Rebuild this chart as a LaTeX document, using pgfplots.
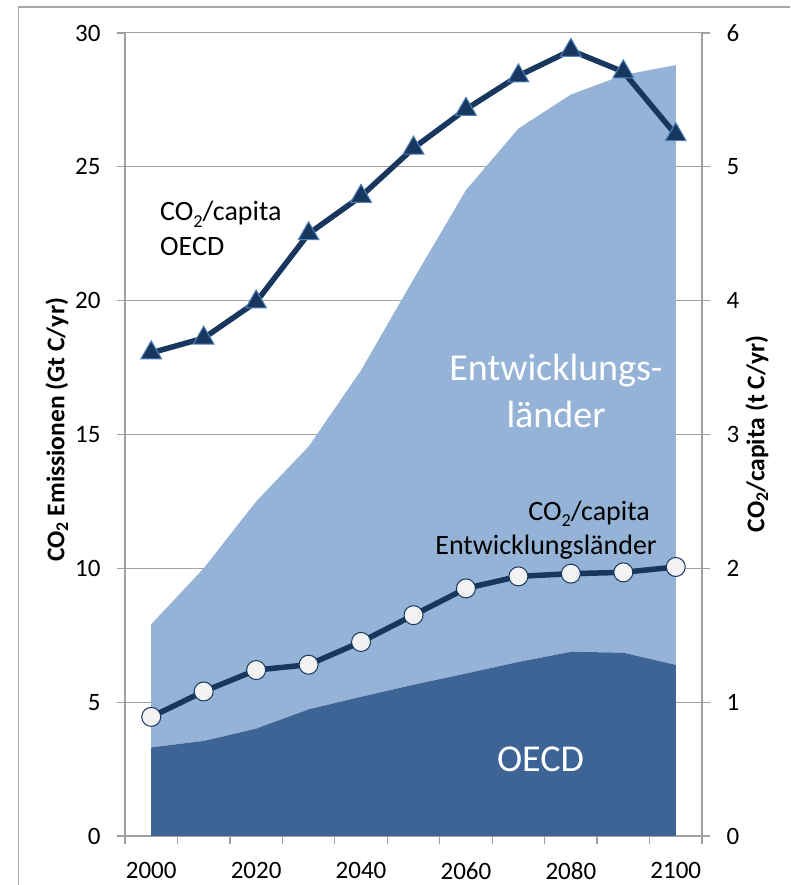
\documentclass[border=0pt]{standalone}
\usepackage{pgfplots}
\pgfplotsset{compat=1.18}
\usepackage{fontspec}
\setmainfont{Carlito}
\definecolor{darkarea}{RGB}{61,100,148}
\definecolor{lightarea}{RGB}{149,179,215}
\definecolor{navy}{RGB}{23,55,94}
\definecolor{cfill}{RGB}{242,242,242}
\definecolor{tborder}{RGB}{79,129,189}
\definecolor{axgray}{RGB}{160,160,160}
\definecolor{framegray}{RGB}{170,170,170}
\newcommand{\subtwo}{\raisebox{-0.22em}{\fontsize{0.65em}{1em}\selectfont 2}}
\begin{document}
\begin{tikzpicture}
\useasboundingbox (0,0) rectangle (790pt,885pt);
\draw[framegray, line width=1.3pt] (18.5pt,0pt) -- (18.5pt,878pt) -- (790pt,878pt);
\begin{axis}[
  at={(125pt,49pt)}, anchor=south west,
  scale only axis, width=577pt, height=803pt,
  xmin=1995, xmax=2105, ymin=0, ymax=30,
  clip=false,
  axis x line*=bottom, axis y line*=left,
  axis line style={-, draw=axgray, line width=1.3pt},
  xtick={2000,2020,...,2100},
  xticklabels={2000,2020,2040,2060,2080,2100},
  minor xtick={1995,2005,...,2105},
  ytick={0,5,...,30},
  tick align=outside,
  major tick length=8pt, minor tick length=8pt,
  major x tick style={draw=none},
  minor x tick style={draw=axgray, line width=1.3pt},
  major y tick style={draw=axgray, line width=1.3pt},
  ymajorgrids=true,
  major grid style={draw=axgray, line width=1pt},
  tick label style={font=\fontsize{25}{28}\selectfont, /pgf/number format/assume math mode=true},
  xticklabel style={yshift=-15pt},
  yticklabel style={xshift=-13pt},
  stack plots=y,
  ylabel={\bfseries CO\textsubscript{2} Emissionen (Gt C/yr)},
  ylabel style={font=\fontsize{25.5}{30}\selectfont, at={(axis description cs:-0.1179,0.5056)}, anchor=center},
]
\addplot[fill=darkarea, draw=none] coordinates {
 (2000,3.31) (2010,3.55) (2020,4.01) (2030,4.73) (2040,5.20) (2050,5.65)
 (2060,6.07) (2070,6.50) (2080,6.88) (2090,6.85) (2100,6.39)} \closedcycle;
\addplot[fill=lightarea, draw=none] coordinates {
 (2000,4.60) (2010,6.45) (2020,8.49) (2030,9.82) (2040,12.20) (2050,15.15)
 (2060,18.06) (2070,19.93) (2080,20.82) (2090,21.58) (2100,22.41)} \closedcycle;
\end{axis}
\begin{axis}[
  at={(125pt,49pt)}, anchor=south west,
  scale only axis, width=577pt, height=803pt,
  xmin=1995, xmax=2105, ymin=0, ymax=6,
  clip=false,
  axis x line=none, axis y line*=right,
  axis line style={-, draw=axgray, line width=1.3pt},
  ytick={0,1,...,6},
  tick align=outside,
  major tick length=8pt,
  major y tick style={draw=axgray, line width=1.3pt},
  tick label style={font=\fontsize{25}{28}\selectfont, /pgf/number format/assume math mode=true},
  yticklabel style={xshift=13pt},
  ylabel={\bfseries CO\textsubscript{2}/capita (t C/yr)},
  ylabel style={font=\fontsize{25.5}{30}\selectfont, at={(axis description cs:1.0953,0.5006)}, anchor=center},
]
\addplot[navy, line width=5.5pt, mark=triangle*, mark size=12pt, mark options={fill=navy, draw=tborder, line width=1pt}] coordinates {
 (2000,3.61) (2010,3.72) (2020,3.99) (2030,4.50) (2040,4.78) (2050,5.14)
 (2060,5.43) (2070,5.68) (2080,5.87) (2090,5.71) (2100,5.24)};
\addplot[navy, line width=5.5pt, mark=*, mark size=9.5pt, mark options={fill=cfill, draw=navy, line width=1pt}] coordinates {
 (2000,0.89) (2010,1.08) (2020,1.24) (2030,1.28) (2040,1.45) (2050,1.65)
 (2060,1.85) (2070,1.94) (2080,1.96) (2090,1.97) (2100,2.01)};
\node[anchor=base west, inner sep=0pt, font=\fontsize{28}{32}\selectfont] at (axis cs:2001.67,4.596) {CO\subtwo/capita};
\node[anchor=base west, inner sep=0pt, font=\fontsize{28}{32}\selectfont] at (axis cs:2001.67,4.340) {OECD};
\node[anchor=base east, inner sep=0pt, font=\fontsize{28}{32}\selectfont] at (axis cs:2095.09,2.360) {CO\subtwo/capita};
\node[anchor=base east, inner sep=0pt, font=\fontsize{28}{32}\selectfont] at (axis cs:2096.42,2.100) {Entwicklungsländer};
\node[anchor=base, inner sep=0pt, text=white, font=\fontsize{38}{44}\selectfont] at (axis cs:2077.17,3.406) {Entwicklungs-};
\node[anchor=base, inner sep=0pt, text=white, font=\fontsize{38}{44}\selectfont] at (axis cs:2077.17,3.050) {länder};
\node[anchor=base, inner sep=0pt, text=white, font=\fontsize{38}{44}\selectfont] at (axis cs:2074.21,0.480) {OECD};
\end{axis}
\end{tikzpicture}
\end{document}
